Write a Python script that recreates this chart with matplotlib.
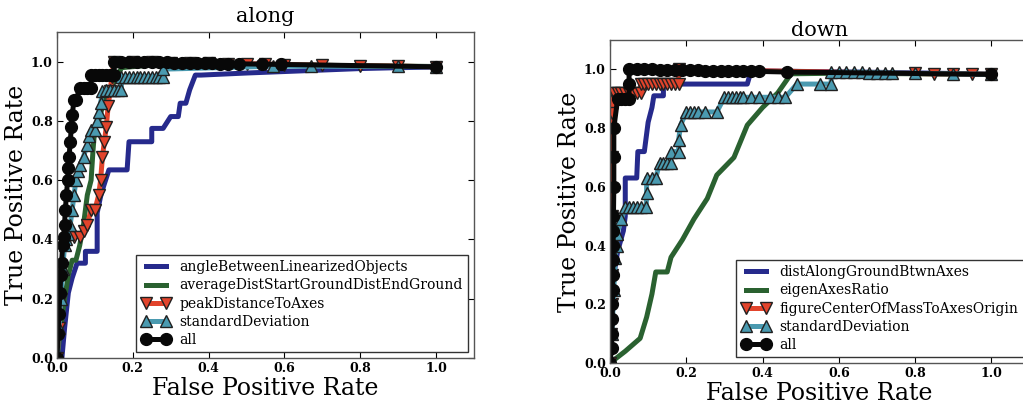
import matplotlib
matplotlib.use("Agg")
import matplotlib.pyplot as plt

plt.rcParams["font.family"] = ["DejaVu Serif"]

# ---------------- "along" classifiers ----------------
along_angle_fpr = [0.0, 0.013, 0.02, 0.03, 0.04, 0.053, 0.075, 0.075, 0.106, 0.106, 0.115,
                   0.123, 0.137, 0.185, 0.19, 0.25, 0.25, 0.28, 0.30, 0.32, 0.325, 0.34,
                   0.35, 0.365, 0.38, 0.5, 0.6, 0.7, 0.8, 0.9, 1.0]
along_angle_tpr = [0.0, 0.0, 0.1, 0.22, 0.27, 0.32, 0.32, 0.36, 0.36, 0.49, 0.545,
                   0.58, 0.635, 0.635, 0.73, 0.73, 0.775, 0.775, 0.815, 0.815, 0.86, 0.86,
                   0.905, 0.955, 0.955, 0.962, 0.967, 0.972, 0.977, 0.98, 0.982]

along_avg_fpr = [0.0, 0.01, 0.02, 0.03, 0.04, 0.05, 0.06, 0.07, 0.075, 0.08, 0.09, 0.095,
                 0.1, 0.11, 0.12, 0.13, 0.14, 0.15, 0.16, 0.17, 0.3, 0.5, 0.7, 1.0]
along_avg_tpr = [0.0, 0.1, 0.2, 0.28, 0.33, 0.33, 0.38, 0.45, 0.5, 0.55, 0.6, 0.7,
                 0.78, 0.8, 0.85, 0.88, 0.9, 0.93, 0.95, 0.98, 0.995, 0.99, 0.988, 0.984]

along_peak_fpr = [0.0, 0.005, 0.01, 0.01, 0.02, 0.03, 0.045, 0.06, 0.07, 0.08, 0.09, 0.1,
                  0.11, 0.115, 0.12, 0.125, 0.13, 0.135, 0.14, 0.145, 0.15, 0.2, 0.25,
                  0.3, 0.35, 0.4, 0.45, 0.5, 0.55, 0.6, 0.7, 0.8, 0.9, 1.0]
along_peak_tpr = [0.0, 0.1, 0.2, 0.3, 0.38, 0.41, 0.41, 0.41, 0.43, 0.45, 0.5, 0.5,
                  0.55, 0.6, 0.68, 0.73, 0.78, 0.85, 0.9, 0.95, 1.0, 0.999, 0.998,
                  0.997, 0.996, 0.995, 0.994, 0.993, 0.992, 0.99, 0.988, 0.986, 0.985, 0.983]

along_std_fpr = [0.0, 0.005, 0.01, 0.015, 0.02, 0.025, 0.03, 0.035, 0.04, 0.045, 0.05,
                 0.055, 0.06, 0.07, 0.08, 0.085, 0.09, 0.1, 0.105, 0.11, 0.115, 0.12,
                 0.13, 0.14, 0.15, 0.16, 0.17, 0.17, 0.18, 0.19, 0.2, 0.21, 0.22, 0.23,
                 0.24, 0.25, 0.26, 0.27, 0.28, 0.28, 0.57, 0.67, 0.9, 1.0]
along_std_tpr = [0.0, 0.1, 0.2, 0.3, 0.38, 0.4, 0.42, 0.45, 0.5, 0.55, 0.6,
                 0.63, 0.65, 0.68, 0.72, 0.75, 0.77, 0.77, 0.8, 0.83, 0.86, 0.9,
                 0.905, 0.905, 0.905, 0.905, 0.905, 0.95, 0.95, 0.95, 0.95, 0.95, 0.95, 0.95,
                 0.95, 0.95, 0.95, 0.95, 0.95, 0.975, 0.985, 0.985, 0.984, 0.983]

along_all_fpr = [0.0, 0.003, 0.005, 0.008, 0.01, 0.012, 0.015, 0.018, 0.02, 0.022, 0.025,
                 0.028, 0.03, 0.032, 0.035, 0.038, 0.04, 0.045, 0.05, 0.06, 0.07, 0.08,
                 0.09, 0.09, 0.1, 0.11, 0.12, 0.13, 0.14, 0.15, 0.15, 0.17, 0.19, 0.21,
                 0.23, 0.25, 0.27, 0.29, 0.31, 0.33, 0.35, 0.37, 0.39, 0.41, 0.43, 0.45,
                 0.48, 0.54, 0.59, 1.0]
along_all_tpr = [0.0, 0.08, 0.15, 0.22, 0.28, 0.32, 0.38, 0.41, 0.45, 0.5, 0.55,
                 0.6, 0.64, 0.68, 0.73, 0.78, 0.82, 0.87, 0.87, 0.91, 0.91, 0.91,
                 0.91, 0.955, 0.955, 0.955, 0.955, 0.955, 0.955, 0.955, 1.0, 1.0, 1.0, 1.0,
                 0.999, 0.999, 0.998, 0.998, 0.997, 0.997, 0.996, 0.996, 0.995, 0.995, 0.994, 0.994,
                 0.993, 0.992, 0.991, 0.983]

# ---------------- "down" classifiers ----------------
down_dist_fpr = [0.0, 0.005, 0.01, 0.02, 0.035, 0.04, 0.04, 0.07, 0.073, 0.09, 0.1, 0.11,
                 0.115, 0.14, 0.14, 0.36, 0.37, 0.5, 0.7, 0.9, 1.0]
down_dist_tpr = [0.0, 0.2, 0.3, 0.38, 0.45, 0.5, 0.63, 0.63, 0.72, 0.72, 0.82, 0.87,
                 0.91, 0.91, 0.95, 0.95, 0.995, 0.993, 0.99, 0.986, 0.983]

down_eigen_fpr = [0.0, 0.04, 0.079, 0.096, 0.11, 0.12, 0.15, 0.16, 0.19, 0.22, 0.255,
                  0.28, 0.325, 0.36, 0.40, 0.44, 0.475, 0.6, 0.8, 1.0]
down_eigen_tpr = [0.0, 0.04, 0.084, 0.156, 0.235, 0.31, 0.31, 0.36, 0.42, 0.49, 0.56,
                  0.64, 0.70, 0.81, 0.87, 0.92, 0.985, 0.987, 0.985, 0.983]

down_center_fpr = [0.0, 0.003, 0.004, 0.005, 0.005, 0.006, 0.006, 0.007, 0.01, 0.02, 0.03,
                   0.04, 0.05, 0.06, 0.07, 0.08, 0.08, 0.09, 0.1, 0.11, 0.12, 0.13, 0.14,
                   0.15, 0.16, 0.17, 0.18, 0.18, 0.8, 0.85, 0.9, 0.95, 1.0]
down_center_tpr = [0.0, 0.1, 0.2, 0.3, 0.5, 0.7, 0.85, 0.92, 0.92, 0.92, 0.92,
                   0.92, 0.92, 0.92, 0.92, 0.92, 0.95, 0.95, 0.95, 0.95, 0.95, 0.95, 0.95,
                   0.95, 0.95, 0.95, 0.95, 1.0, 0.986, 0.985, 0.985, 0.984, 0.983]

down_std_fpr = [0.0, 0.005, 0.01, 0.013, 0.018, 0.018, 0.03, 0.04, 0.05, 0.06, 0.07,
                0.08, 0.095, 0.096, 0.096, 0.11, 0.12, 0.13, 0.14, 0.15, 0.16, 0.16,
                0.18, 0.18, 0.185, 0.2, 0.21, 0.22, 0.23, 0.25, 0.28, 0.3, 0.31, 0.32,
                0.33, 0.34, 0.35, 0.37, 0.39, 0.42, 0.44, 0.46, 0.49, 0.55, 0.58, 0.58,
                0.6, 0.62, 0.64, 0.66, 0.68, 0.7, 0.72, 0.74, 0.8, 0.9, 1.0]
down_std_tpr = [0.0, 0.1, 0.25, 0.357, 0.40, 0.44, 0.49, 0.53, 0.53, 0.53, 0.53,
                0.53, 0.53, 0.58, 0.63, 0.63, 0.63, 0.68, 0.68, 0.68, 0.68, 0.72,
                0.72, 0.76, 0.81, 0.855, 0.855, 0.855, 0.855, 0.855, 0.855, 0.905, 0.905, 0.905,
                0.905, 0.905, 0.905, 0.905, 0.905, 0.905, 0.905, 0.905, 0.95, 0.95, 0.95, 0.99,
                0.99, 0.99, 0.99, 0.99, 0.989, 0.989, 0.988, 0.988, 0.986, 0.985, 0.983]

down_all_fpr = [0.0, 0.004, 0.005, 0.006, 0.006, 0.007, 0.007, 0.008, 0.008, 0.009, 0.009,
                0.01, 0.01, 0.01, 0.02, 0.03, 0.04, 0.05, 0.05, 0.05, 0.07, 0.09, 0.11,
                0.13, 0.15, 0.17, 0.19, 0.21, 0.23, 0.25, 0.27, 0.29, 0.31, 0.33, 0.35,
                0.37, 0.39, 0.465, 1.0]
down_all_tpr = [0.0, 0.05, 0.1, 0.15, 0.2, 0.25, 0.3, 0.35, 0.4, 0.45, 0.5,
                0.6, 0.7, 0.8, 0.9, 0.9, 0.9, 0.9, 0.95, 1.0, 1.0, 1.0, 1.0,
                0.999, 0.999, 0.998, 0.998, 0.997, 0.997, 0.996, 0.996, 0.995, 0.995, 0.994, 0.994,
                0.993, 0.993, 0.991, 0.983]

along_labels = ["angleBetweenLinearizedObjects", "averageDistStartGroundDistEndGround",
                "peakDistanceToAxes", "standardDeviation", "all"]
down_labels = ["distAlongGroundBtwnAxes", "eigenAxesRatio",
               "figureCenterOfMassToAxesOrigin", "standardDeviation", "all"]
ticks = [0.0, 0.2, 0.4, 0.6, 0.8, 1.0]

BLUE = "#262a8c"
GREEN = "#2a6130"
RED = "#e2442c"
CYAN = "#4a9ab0"
BLACK = "#080808"

styles = [
    dict(color=BLUE, lw=3.6),
    dict(color=GREEN, lw=3.6),
    dict(color=RED, lw=3.6, marker="v", ms=8.5, mfc=RED, mec="#202020", mew=1.0),
    dict(color=CYAN, lw=3.6, marker="^", ms=8.5, mfc=CYAN, mec="#202020", mew=1.0),
    dict(color=BLACK, lw=3.6, marker="o", ms=8.5, mfc=BLACK, mec=BLACK, mew=1.0),
]

fig = plt.figure(figsize=(10.23, 4.13), dpi=100)


def draw(ax, title, series, labels, title_pad):
    for (fpr, tpr), lab, st in zip(series, labels, styles):
        ax.plot(fpr, tpr, label=lab, **st)
    ax.set_xlim(0, 1.1)
    ax.set_ylim(0, 1.1)
    ax.set_xticks(ticks)
    ax.set_yticks(ticks)
    ax.set_xticklabels([f"{t:.1f}" for t in ticks], fontsize=9, fontweight="bold")
    ax.set_yticklabels([f"{t:.1f}" for t in ticks], fontsize=9, fontweight="bold")
    ax.tick_params(direction="in", top=True, right=True, length=4, width=0.8, pad=3)
    for sp in ax.spines.values():
        sp.set_color("#555555")
        sp.set_linewidth(1.0)
    ax.set_title(title, fontsize=15, pad=title_pad)
    ax.set_xlabel("False Positive Rate", fontsize=17, labelpad=1)
    ax.set_ylabel("True Positive Rate", fontsize=17, labelpad=2)
    leg = ax.legend(loc="lower right", fontsize=10, numpoints=2, handlelength=2.0,
                    fancybox=False, framealpha=1, edgecolor="#333333",
                    labelspacing=0.3, borderpad=0.4, handletextpad=0.7,
                    borderaxespad=0.4)
    leg.get_frame().set_linewidth(1.0)


ax1 = fig.add_axes([0.0557, 0.1332, 0.4076, 0.789])
draw(ax1, "along",
     [(along_angle_fpr, along_angle_tpr), (along_avg_fpr, along_avg_tpr),
      (along_peak_fpr, along_peak_tpr), (along_std_fpr, along_std_tpr),
      (along_all_fpr, along_all_tpr)], along_labels, 7)

ax2 = fig.add_axes([0.5963, 0.1211, 0.41, 0.782])
draw(ax2, "down",
     [(down_dist_fpr, down_dist_tpr), (down_eigen_fpr, down_eigen_tpr),
      (down_center_fpr, down_center_tpr), (down_std_fpr, down_std_tpr),
      (down_all_fpr, down_all_tpr)], down_labels, 3)

fig.savefig("out.png", dpi=100)
